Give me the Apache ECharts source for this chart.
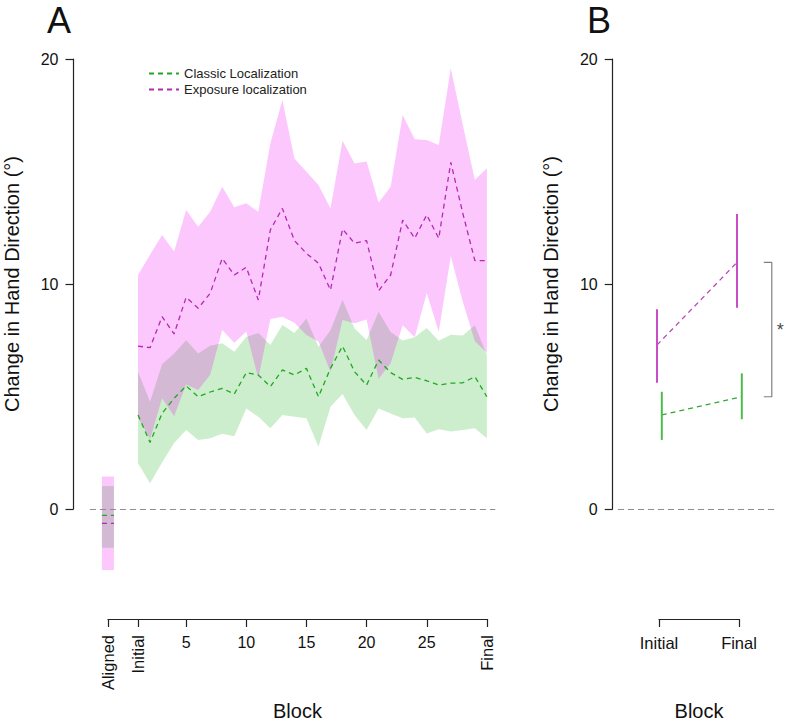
<!DOCTYPE html>
<html><head><meta charset="utf-8">
<script src="https://cdn.jsdelivr.net/npm/echarts@6/dist/echarts.min.js"></script>
<style>html,body{margin:0;padding:0;background:#fff}#c{width:785px;height:722px}</style>
</head><body><div id="c"></div>
<script>
// ---------- data ----------
const blocks = [1,2,3,4,5,6,7,8,9,10,11,12,13,14,15,16,17,18,19,20,21,22,23,24,25,26,27,28,29,30];
const classicMean = [4.18,2.96,4.25,4.92,5.47,4.99,5.2,5.36,5.11,6.06,5.96,5.44,6.18,5.96,6.25,4.99,6.25,7.24,6.1,5.51,6.62,6.06,5.76,5.85,5.7,5.51,5.59,5.61,5.88,4.99];
const classicLow  = [2.03,1.14,2.07,2.93,3.51,3.07,3.14,3.35,3.23,4.47,4.1,3.59,4.18,4.1,4.03,2.77,4.55,5.11,4.18,3.51,4.47,4.25,4.03,4.07,3.36,3.54,3.44,3.51,3.59,3.14];
const classicHigh = [6.1,4.77,6.43,6.91,7.5,6.91,7.26,7.37,6.99,7.65,7.82,7.29,8.18,7.82,8.47,7.21,7.95,9.3,8.02,7.51,8.77,7.87,7.49,7.63,8.04,7.48,7.74,7.71,8.17,6.84];
const exposureMean = [7.24,7.17,8.55,7.78,9.41,8.92,9.59,11.14,10.4,10.74,9.29,12.4,13.36,11.93,11.36,10.92,9.73,12.44,11.81,11.93,9.7,10.4,12.84,12.03,13.07,12.03,15.41,13.14,11.04,11.04];
const exposureLow  = [4.08,3.1,4.92,4.12,5.53,5.29,5.97,7.96,7.39,7.89,5.8,8.45,8.54,8.28,7.73,7.44,6.1,8.4,8.26,8.42,5.79,6.48,8.17,7.63,9.6,7.88,11.23,9.21,7.46,6.94];
const exposureHigh = [10.4,11.3,12.18,11.44,13.29,12.55,13.21,14.32,13.41,13.59,13.21,16.25,18.18,15.58,14.99,14.4,13.36,16.37,15.36,15.44,13.61,14.32,17.51,16.43,16.4,16.18,19.59,17.07,14.62,15.14];
// aligned block (drawn as a short segment spanning x -2 .. -1)
const alignedX = [-2, -1];
const alignedClassic  = {mean: -0.28, low: -1.72, high: 1.02};
const alignedExposure = {mean: -0.64, low: -2.71, high: 1.44};
// tick labels
const blockTickValues = [-1.5, 1, 5, 10, 15, 20, 25, 30];
const blockNumberLabels = [5, 10, 15, 20, 25];
const blockWordValues = [-1.5, 1, 30];
const blockWordLabels = ['Aligned', 'Initial', 'Final'];
// panel B
const bCategories = ['Initial', 'Final'];
const bX = [1, 2];
const exposureBMean = [7.29, 10.96];
const exposureBLow  = [5.61, 8.95];
const exposureBHigh = [8.88, 13.11];
const classicBMean = [4.18, 4.99];
const classicBLow  = [3.07, 3.99];
const classicBHigh = [5.21, 6.03];
const yTitle = 'Change in Hand Direction (°)';

// ---------- styles ----------
const FONT = '"Liberation Sans", Arial, Helvetica, sans-serif';
const GREEN_FILL = 'rgba(0,170,0,0.2)';
const PINK_FILL = 'rgba(240,0,240,0.22)';
const GREEN_LINE = '#22a722';
const MAG_LINE = '#b22ab2';
const GREEN_BAR = '#4cba4c';
const MAG_BAR = '#c94cc9';
const AX = '#222';
const dodgeE = -0.025, dodgeC = 0.035;

const chart = echarts.init(document.getElementById('c'), null, {renderer: 'svg'});

function bandSeries(xs, lo, hi, color, z) {
  const data = xs.map((x, i) => [x, lo[i], hi[i]]);
  return {
    type: 'custom', xAxisIndex: 0, yAxisIndex: 0, z: z, silent: true,
    encode: {x: 0, y: [1, 2]},
    data: data,
    renderItem: function (params, api) {
      if (params.dataIndex !== 0) return null;
      const top = data.map(d => api.coord([d[0], d[2]]));
      const bot = data.map(d => api.coord([d[0], d[1]])).reverse();
      return {type: 'polygon', shape: {points: top.concat(bot)}, style: {fill: color, stroke: null}};
    }
  };
}
function meanLine(name, xs, ys, color, z, xi, yi) {
  return {
    name: name, type: 'line', xAxisIndex: xi, yAxisIndex: yi, z: z, symbol: 'none', silent: true,
    data: xs.map((x, i) => [x, ys[i]]),
    lineStyle: {color: color, width: 1.3, type: [5, 4]}, itemStyle: {color: color}
  };
}
function errBars(xs, lo, hi, color) {
  return {
    type: 'custom', xAxisIndex: 4, yAxisIndex: 3, z: 4, silent: true,
    encode: {x: 0, y: [1, 2]},
    data: xs.map((x, i) => [x, lo[i], hi[i]]),
    renderItem: function (params, api) {
      const p1 = api.coord([api.value(0), api.value(1)]);
      const p2 = api.coord([api.value(0), api.value(2)]);
      return {type: 'line', shape: {x1: p1[0], y1: p1[1], x2: p2[0], y2: p2[1]}, style: {stroke: color, lineWidth: 2}};
    }
  };
}
const zeroMark = {
  silent: true, symbol: 'none', label: {show: false},
  lineStyle: {color: '#8c8c8c', type: [6, 4], width: 1.2},
  data: [{yAxis: 0}]
};
const yAxisVisible = (gi) => ({
  gridIndex: gi, type: 'value', min: 0, max: 20, interval: 10,
  axisLine: {show: true, lineStyle: {color: AX, width: 1.2}},
  axisTick: {show: true, length: 8, lineStyle: {color: AX, width: 1.2}},
  axisLabel: {show: true, margin: 15, fontSize: 16, color: '#111', fontFamily: FONT},
  splitLine: {show: false},
  name: yTitle, nameLocation: 'middle', nameGap: 52, nameMoveOverlap: false,
  nameTextStyle: {fontSize: 20, color: '#111', fontFamily: FONT}
});
const hiddenAxis = (gi, min, max) => ({gridIndex: gi, type: 'value', min: min, max: max, show: false, splitLine: {show: false}});

const bracketX1 = 2.31, bracketX2 = 2.41;

const option = {
  animation: false,
  backgroundColor: '#fff',
  textStyle: {fontFamily: FONT},
  title: [
    {text: 'A', left: 47, top: 2, padding: 0, textStyle: {fontSize: 36, fontWeight: 'normal', color: '#111', fontFamily: FONT}},
    {text: 'B', left: 587, top: 2, padding: 0, textStyle: {fontSize: 36, fontWeight: 'normal', color: '#111', fontFamily: FONT}}
  ],
  legend: {
    orient: 'vertical', left: 148, top: 67, padding: 0, itemGap: 3,
    itemWidth: 30, itemHeight: 14,
    data: ['Classic Localization', 'Exposure localization'],
    itemStyle: {opacity: 0},
    textStyle: {fontSize: 13, color: '#222', fontFamily: FONT},
    selectedMode: false
  },
  grid: [
    {left: 89.9, width: 405.4, top: 14, height: 585},
    {left: 73.5, width: 10, top: 59, height: 450},
    {left: 108, width: 378.9, top: 590, height: 31},
    {left: 618, width: 157, top: 14, height: 585},
    {left: 612.7, width: 10, top: 59, height: 450},
    {left: 659, width: 80, top: 590, height: 31}
  ],
  xAxis: [
    hiddenAxis(0, -3, 30.7),
    hiddenAxis(1, 0, 1),
    {
      gridIndex: 2, type: 'value', min: -1.5, max: 30, position: 'bottom',
      axisLine: {show: true, onZero: false, lineStyle: {color: AX, width: 1.2}},
      axisTick: {show: true, length: 8, customValues: blockTickValues, lineStyle: {color: AX, width: 1.2}},
      axisLabel: {show: true, customValues: blockNumberLabels, margin: 15, fontSize: 16, color: '#111', fontFamily: FONT},
      splitLine: {show: false},
      name: 'Block', nameLocation: 'middle', nameGap: 82, nameMoveOverlap: false,
      nameTextStyle: {fontSize: 20, color: '#111', fontFamily: FONT}
    },
    {
      gridIndex: 2, type: 'value', min: -1.5, max: 30, position: 'bottom',
      axisLine: {show: false, onZero: false}, axisTick: {show: false},
      axisLabel: {show: true, customValues: blockWordValues, rotate: 90, margin: 16, fontSize: 16.5, color: '#111', fontFamily: FONT,
        formatter: v => blockWordLabels[blockWordValues.indexOf(v)]},
      splitLine: {show: false}
    },
    hiddenAxis(3, 0.4875, 2.45),
    hiddenAxis(4, 0, 1),
    {
      gridIndex: 5, type: 'value', min: 1, max: 2, interval: 1, position: 'bottom',
      axisLine: {show: true, onZero: false, lineStyle: {color: AX, width: 1.2}},
      axisTick: {show: true, length: 8, lineStyle: {color: AX, width: 1.2}},
      axisLabel: {show: true, margin: 15, fontSize: 16.5, color: '#111', fontFamily: FONT,
        formatter: v => bCategories[bX.indexOf(v)]},
      splitLine: {show: false},
      name: 'Block', nameLocation: 'middle', nameGap: 82, nameMoveOverlap: false,
      nameTextStyle: {fontSize: 20, color: '#111', fontFamily: FONT}
    }
  ],
  yAxis: [
    hiddenAxis(0, -4, 22),
    yAxisVisible(1),
    hiddenAxis(2, 0, 1),
    hiddenAxis(3, -4, 22),
    yAxisVisible(4),
    hiddenAxis(5, 0, 1)
  ],
  series: [
    // panel A bands
    bandSeries(blocks, classicLow, classicHigh, GREEN_FILL, 1),
    bandSeries(alignedX, [alignedClassic.low, alignedClassic.low], [alignedClassic.high, alignedClassic.high], GREEN_FILL, 1),
    bandSeries(blocks, exposureLow, exposureHigh, PINK_FILL, 2),
    bandSeries(alignedX, [alignedExposure.low, alignedExposure.low], [alignedExposure.high, alignedExposure.high], PINK_FILL, 2),
    // panel A zero line + mean lines
    Object.assign(meanLine('Classic Localization', blocks, classicMean, GREEN_LINE, 3, 0, 0), {markLine: zeroMark}),
    meanLine('Exposure localization', blocks, exposureMean, MAG_LINE, 3, 0, 0),
    meanLine('Classic Localization', alignedX, [alignedClassic.mean, alignedClassic.mean], GREEN_LINE, 3, 0, 0),
    meanLine('Exposure localization', alignedX, [alignedExposure.mean, alignedExposure.mean], MAG_LINE, 3, 0, 0),
    // panel B
    Object.assign(meanLine('bE', bX.map(x => x + dodgeE), exposureBMean, '#bb48bb', 3, 4, 3), {markLine: zeroMark}),
    meanLine('bC', bX.map(x => x + dodgeC), classicBMean, '#33a833', 3, 4, 3),
    errBars(bX.map(x => x + dodgeE), exposureBLow, exposureBHigh, MAG_BAR),
    errBars(bX.map(x => x + dodgeC), classicBLow, classicBHigh, GREEN_BAR),
    {
      type: 'line', xAxisIndex: 4, yAxisIndex: 3, symbol: 'none', silent: true, clip: false, z: 3,
      data: [[bracketX1, exposureBMean[1]], [bracketX2, exposureBMean[1]], [bracketX2, classicBMean[1]], [bracketX1, classicBMean[1]]],
      lineStyle: {color: '#808080', width: 1.2}
    },
    {
      type: 'scatter', xAxisIndex: 4, yAxisIndex: 3, symbolSize: 0, silent: true, clip: false, z: 3,
      data: [[bracketX2, (exposureBMean[1] + classicBMean[1]) / 2]],
      label: {show: true, formatter: '*', position: 'right', distance: 5, fontSize: 18, color: '#111', fontFamily: FONT}
    }
  ]
};
chart.setOption(option);
</script>
</body></html>
